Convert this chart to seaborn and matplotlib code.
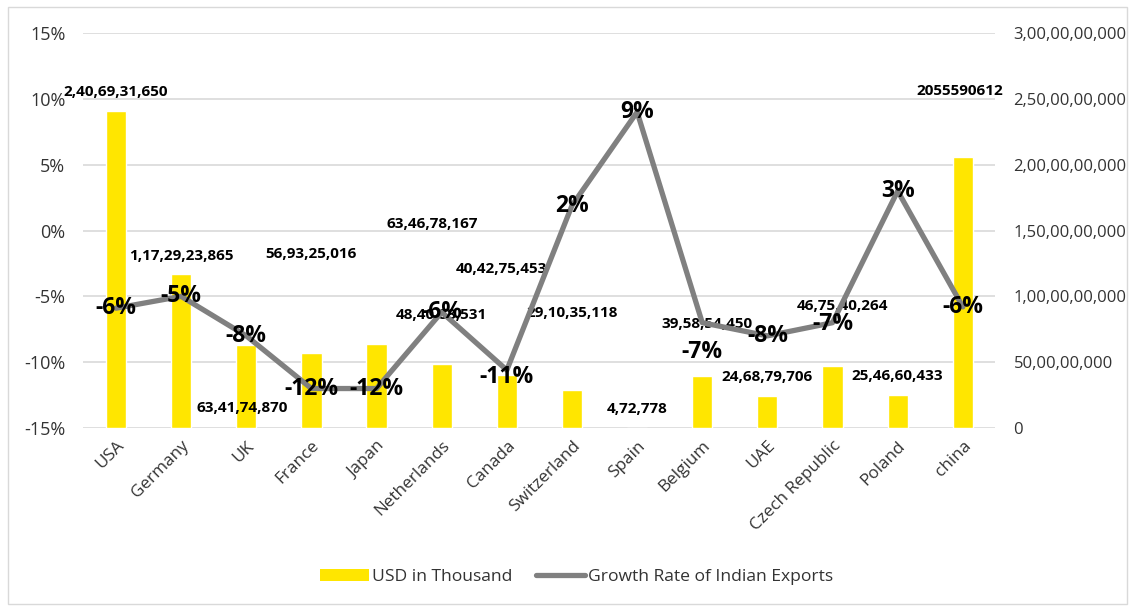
import matplotlib
matplotlib.use("Agg")
import matplotlib.pyplot as plt
import seaborn as sns
import numpy as np
import pandas as pd
from matplotlib.patches import Rectangle, Patch
from matplotlib.lines import Line2D
from matplotlib.ticker import FuncFormatter, MultipleLocator

# ---------------- data ----------------
countries = ["USA", "Germany", "UK", "France", "Japan", "Netherlands", "Canada",
             "Switzerland", "Spain", "Belgium", "UAE", "Czech Republic", "Poland", "china"]
usd_thousand = [2406931650, 1172923865, 634174870, 569325016, 634678167, 484088531,
                404275453, 291035118, 472778, 395854450, 246879706, 467540264,
                254660433, 2055590612]
growth_pct = [-5.9, -5.0, -8.0, -12.0, -12.0, -6.2, -10.6, 1.9, 9.0, -7.0, -8.0, -7.0, 3.0, -5.8]
growth_labels = ["-6%", "-5%", "-8%", "-12%", "-12%", "-6%", "-11%", "2%", "9%",
                 "-7%", "-8%", "-7%", "3%", "-6%"]
plain_value_label = [False] * 13 + [True]

# label placement (style only): value-label anchor (category offset, bar-axis height)
val_lab_dx = [0.0, 0.0, -0.07, 0.0, 0.85, 0.0, -0.08, 0.0, 0.0, 0.08, 0.0, 0.15, 0.0, -0.04]
val_lab_y = [2.55e9, 1.31e9, 0.15e9, 1.32e9, 1.55e9, 0.86e9, 1.21e9, 0.87e9, 0.145e9,
             0.79e9, 0.39e9, 0.93e9, 0.395e9, 2.56e9]
pct_lab_dy = [0, 0, 0, 0, 0, 0, -5, 0, 0, -21, 0, -1, 0, 0]  # points

series_bar = "USD in Thousand"
series_line = "Growth Rate of Indian Exports"


def indian(n):
    s = str(int(n))
    if len(s) <= 3:
        return s
    last3, rest = s[-3:], s[:-3]
    groups = []
    while len(rest) > 2:
        groups.insert(0, rest[-2:])
        rest = rest[:-2]
    if rest:
        groups.insert(0, rest)
    return ",".join(groups + [last3])


df = pd.DataFrame({"country": countries, "usd": usd_thousand, "growth": growth_pct})
df["pos"] = np.arange(len(df))

# ---------------- style ----------------
sns.set_theme(style="white")
plt.rcParams["font.family"] = ["Open Sans", "DejaVu Sans"]

YELLOW = "#FFE600"
GREY = "#808080"
TXT = "#333333"
GRID = "#D9D9D9"

fig = plt.figure(figsize=(11.35, 6.08), dpi=100)
fig.patches.append(Rectangle((0.007, 0.007), 0.986, 0.982, transform=fig.transFigure,
                             fill=False, edgecolor=GRID, linewidth=1.0))

ax = fig.add_axes([0.0735, 0.296, 0.8035, 0.6497])   # bars (right-hand scale)
ax2 = ax.twinx()                                       # line (left-hand scale)

sns.barplot(data=df, x="pos", y="usd", color=YELLOW, width=0.31, ax=ax,
            saturation=1, native_scale=True, errorbar=None)
sns.lineplot(data=df, x="pos", y="growth", color=GREY, linewidth=3.8, ax=ax2,
             sort=False, solid_joinstyle="round", solid_capstyle="round")

ax.set_xlim(-0.5, len(countries) - 0.5)
ax.set_ylim(0, 3e9)
ax2.set_ylim(-15, 15)

ax.yaxis.set_major_locator(MultipleLocator(5e8))
ax2.yaxis.set_major_locator(MultipleLocator(5))
ax.yaxis.set_major_formatter(FuncFormatter(lambda v, p: indian(v)))
ax2.yaxis.set_major_formatter(FuncFormatter(lambda v, p: f"{int(round(v))}%"))

ax.yaxis.tick_right()
ax.yaxis.set_label_position("right")
ax2.yaxis.tick_left()
ax2.yaxis.set_label_position("left")

ax.set_xticks(df["pos"])
ax.set_xticklabels(countries, rotation=45, ha="right", rotation_mode="anchor")
ax.set_xlabel("")
ax.set_ylabel("")
ax2.set_ylabel("")
ax2.set_xlabel("")

ax.grid(axis="y", color=GRID, linewidth=1.2)
ax.set_axisbelow(True)
for a in (ax, ax2):
    for s in a.spines.values():
        s.set_visible(False)
    a.tick_params(length=0, colors=TXT, labelsize=13)
ax.tick_params(axis="x", labelsize=12.3, pad=7)
ax.tick_params(axis="y", pad=13, labelsize=12)
ax2.tick_params(axis="y", pad=13)
ax2.tick_params(axis="x", bottom=False, labelbottom=False)

# value labels
for i, v in enumerate(usd_thousand):
    txt = str(v) if plain_value_label[i] else indian(v)
    ax.text(i + val_lab_dx[i], val_lab_y[i], txt, ha="center", va="center",
            fontsize=11, fontweight="bold", color="black")

# percentage labels
for i, g in enumerate(growth_pct):
    ax2.annotate(growth_labels[i], (i, g), xytext=(0, pct_lab_dy[i]),
                 textcoords="offset points", ha="center", va="center",
                 fontsize=16.5, fontweight="bold", color="black")

handles = [Patch(facecolor=YELLOW, edgecolor="none"),
           Line2D([0], [0], color=GREY, linewidth=3.8, solid_capstyle="round")]
fig.legend(handles, [series_bar, series_line], loc="center", ncol=2,
           bbox_to_anchor=(0.508, 0.051), frameon=False, fontsize=12.6,
           handlelength=2.8, handletextpad=0.2, columnspacing=1.3,
           labelcolor=TXT)

fig.savefig("out.png", dpi=100)
